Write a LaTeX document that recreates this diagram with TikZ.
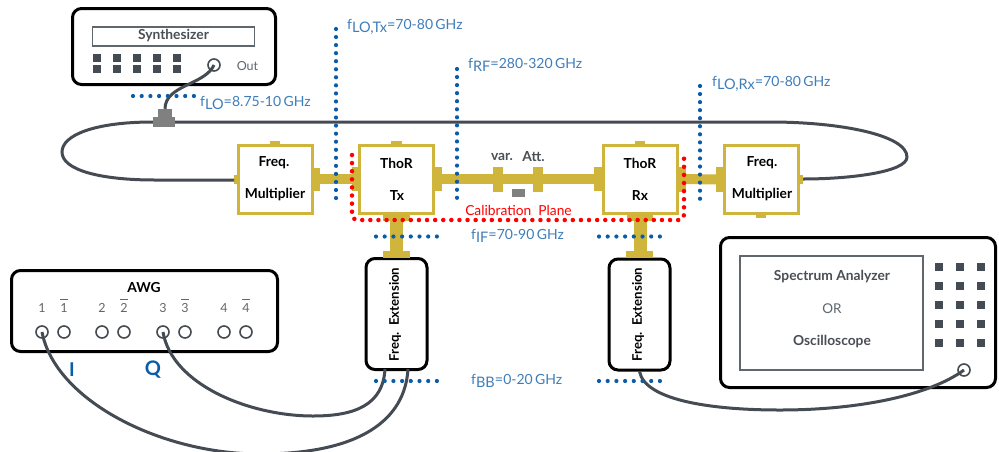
\documentclass[tikz,border=0pt]{standalone}
\usepackage{fontspec}
\setmainfont{Lato}
\definecolor{gold}{HTML}{CFB53B}
\definecolor{cable}{HTML}{454B52}
\definecolor{labblue}{HTML}{3F7DB8}
\definecolor{dotblue}{HTML}{0B5CA8}
\definecolor{boxgray}{HTML}{5F666C}
\definecolor{txtgray}{HTML}{4A4F55}
\newcommand{\fsub}[2]{f\raisebox{-3.5pt}{\fontsize{14.5}{14.5}\selectfont #1}{\fontsize{14.5}{14.5}\selectfont =}#2\,GHz}
\tikzset{
 case/.style={draw=black,line width=3pt,rounded corners=9pt,fill=white,inner sep=0pt},
 screen/.style={draw=boxgray,line width=1.8pt,fill=white,inner sep=0pt},
 rfblock/.style={draw=gold,line width=3pt,fill=white,inner sep=0pt,minimum width=74pt,minimum height=68pt},
 cab/.style={draw=cable,line width=3pt},
 portc/.style={circle,draw=cable,line width=1.6pt,fill=white,minimum size=12pt,inner sep=0pt},
 btn/.style={fill=cable,inner sep=0pt,minimum width=8pt,minimum height=7.5pt},
 gstub/.style={fill=gold},
 gline/.style={draw=gold,line width=10pt},
 bdots/.style={draw=dotblue,line width=4.2pt,line cap=round,dash pattern=on 0pt off 8.05pt},
 hdots/.style={draw=dotblue,line width=4.2pt,line cap=round,dash pattern=on 0pt off 8.7pt},
 rdots/.style={draw=red,line width=4.5pt,line cap=round,dash pattern=on 0pt off 8.1pt,rounded corners=5pt},
 lab/.style={text=labblue,font=\fontsize{14}{14}\selectfont,anchor=base west,inner sep=0pt},
 bt/.style={text=black,font=\fontsize{13.8}{14}\selectfont\bfseries,inner sep=0pt},
 gt/.style={text=txtgray,font=\fontsize{13.8}{14}\selectfont\bfseries,inner sep=0pt},
 lt/.style={text=boxgray,font=\fontsize{12.5}{13}\selectfont,inner sep=0pt},
}
\begin{document}
\begin{tikzpicture}[x=1pt,y=-1pt]
\useasboundingbox (0,0) rectangle (999,451);
\clip (0,0) rectangle (999,451);

% Synthesizer
\node[case,minimum width=203pt,minimum height=76pt] (synth) at (174,46.5) {};
\node[screen,minimum width=162pt,minimum height=19pt] (synthdisp) at (173.5,36.5) {};
\node[gt] (synthlab) at (173.5,36) {Synthesizer};
\foreach \x/\n in {97/a,117/b,137/c,157/d,177/e}{
 \node[btn] (s1\n) at (\x,58) {};
 \node[btn] (s2\n) at (\x,69) {};
}
\node[portc] (synthout) at (214,65) {};
\node[lt] (outlab) at (247.5,66) {Out};

% AWG
\node[case,minimum width=266pt,minimum height=81pt] (awg) at (144.5,311) {};
\node[bt] (awglab) at (144,288) {AWG};
\foreach \x/\t/\n in {42/1/a,102/2/c,163/3/e,224/4/g}{
 \node[lt,anchor=base] (awgl\n) at (\x,312.5) {\t};
 \node[portc] (awgp\n) at (\x,332) {};
}
\foreach \x/\t/\n in {64/1/b,124/2/d,185/3/f,246/4/h}{
 \node[lt,anchor=base] (awgl\n) at (\x,312.5) {$\overline{\mbox{\t\rule{0pt}{11.5pt}}}$};
 \node[portc] (awgp\n) at (\x,332) {};
}
\node[text=dotblue,font=\fontsize{19}{19}\selectfont\bfseries,inner sep=0pt] (ilab) at (72,370) {I};
\node[text=dotblue,font=\fontsize{20}{20}\selectfont\bfseries,inner sep=0pt] (qlab) at (153,370) {Q};

% Spectrum analyzer
\node[case,minimum width=275pt,minimum height=150pt] (sa) at (858,312.5) {};
\node[screen,minimum width=183pt,minimum height=114pt] (sascreen) at (831.5,313) {};
\node[gt] (salab) at (832,277) {Spectrum Analyzer};
\node[lt,font=\fontsize{13.5}{14}\selectfont] (orlab) at (832,309) {OR};
\node[gt] (osclab) at (832,342) {Oscilloscope};
\foreach \y in {267,286,305,324,343}{
 \foreach \x in {939,960,981}{
  \node[btn,minimum height=8pt] (sb\x\y) at (\x,\y) {};
 }
}
\node[portc] (saport) at (964,370) {};

% Frequency extensions
\node[case,minimum width=61pt,minimum height=111pt] (extt) at (396.5,314) {};
\node[case,minimum width=61pt,minimum height=111pt] (extr) at (639.5,314.5) {};
\node[bt,rotate=90,font=\fontsize{13.2}{14}\selectfont\bfseries] (exttlab) at (395,314.5) {Freq.\ \ Extension};
\node[bt,rotate=90,font=\fontsize{13.2}{14}\selectfont\bfseries] (extrlab) at (638,314.5) {Freq.\ \ Extension};

% RF blocks
\node[rfblock] (fml) at (275,179) {};
\node[rfblock] (thtx) at (396.5,179) {};
\node[rfblock] (thrx) at (640,179) {};
\node[rfblock] (fmr) at (761,179.5) {};
\node[bt] (fmlt) at (274,163) {Freq.};
\node[bt] (fmlb) at (275,195) {Multiplier};
\node[bt] (txt) at (396.5,163) {ThoR};
\node[bt] (txb) at (397,196) {Tx};
\node[bt] (rxt) at (640,163) {ThoR};
\node[bt] (rxb) at (640,196) {Rx};
\node[bt] (fmrt) at (762,163) {Freq.};
\node[bt] (fmrb) at (762,195) {Multiplier};

% gold lines
\draw[gline] (fml.east) -- (thtx.west);
\draw[gline] (thtx.east) -- (thrx.west);
\draw[gline] (thrx.east) -- (fmr.west);
\draw[gold,line width=13pt] (thtx.south) -- (extt.north);
\draw[gold,line width=13pt] (thrx.south) -- (thrx.south |- extr.north);
% stubs
\fill[gstub] (270,141) rectangle (280,144);
\fill[gstub] (234,175) rectangle (237,184);
\fill[gstub] (313,168) rectangle (320,191);
\fill[gstub] (391,141) rectangle (402,144);
\fill[gstub] (352,167) rectangle (358,191);
\fill[gstub] (435,167) rectangle (442,191);
\fill[gstub] (383,214) rectangle (410,221);
\fill[gstub] (383,251) rectangle (410,258);
\fill[gstub] (635,141) rectangle (645,144);
\fill[gstub] (594,167) rectangle (602,191);
\fill[gstub] (678,167) rectangle (686,192);
\fill[gstub] (627,214) rectangle (653,221);
\fill[gstub] (626,251) rectangle (653,258);
\fill[gstub] (716,167) rectangle (723,192);
\fill[gstub] (799,175) rectangle (803,184);
\fill[gstub] (756,215) rectangle (766,218);
\fill[gstub] (493,167) rectangle (503,192);
\fill[gstub] (533,167) rectangle (543,192);
\fill[gray] (512,189) rectangle (524.5,197);
\node[gt] (varlab) at (502,157) {var.};
\node[gt] (attlab) at (533.5,157) {Att.};

% LO cable
\node[fill=gray,minimum width=22pt,minimum height=10pt,inner sep=0pt] (coupler) at (164,122) {};
\node[fill=gray,minimum width=14pt,minimum height=9pt,inner sep=0pt] (couplertop) at (165,113.5) {};
\draw[cab] (coupler.east) -- (770,122) .. controls (840,122) and (907,135) .. (907,157)
  .. controls (907,172) and (850,179) .. (803,179);
\draw[cab] (coupler.west) .. controls (95,122) and (62,135) .. (62,152)
  .. controls (62,170) and (100,180) .. (155,180) -- (234,180);
\draw[cab] (synthout.center) .. controls (205,85) and (165,85) .. (couplertop.north);

% AWG and output cables
\draw[cab] (awgpa.center) .. controls (55,400) and (160,454) .. (260,454) .. controls (360,454) and (405,420) .. (408,369);
\draw[cab] (awgpe.center) .. controls (172,385) and (250,416) .. (313,416) .. controls (355,416) and (383,405) .. (385,369);
\draw[cab] (extr.south) .. controls (645,400) and (710,410) .. (780,410) .. controls (860,410) and (930,395) .. (saport.center);

% blue dotted levels
\draw[bdots] (336,29) -- (336,200);
\draw[bdots] (457,69) -- (457,200);
\draw[bdots] (700,86) -- (700,200);
\draw[hdots] (133,96) -- (196,96);
\draw[hdots] (376,236.5) -- (439,236.5);
\draw[hdots] (599,236.5) -- (662,236.5);
\draw[hdots] (376,381) -- (439,381);
\draw[hdots] (599,381) -- (662,381);

% calibration plane
\draw[rdots] (352,155) -- (352,220) -- (684,220) -- (684,156);
\node[text=red,font=\fontsize{13.8}{14}\selectfont,inner sep=0pt] (callab) at (518.5,210.5) {Calibration\ \ Plane};

% frequency labels
\node[lab] (flo) at (200,106) {\fsub{LO}{8.75-10}};
\node[lab] (flotx) at (347,29) {\fsub{LO,Tx}{70-80}};
\node[lab] (frf) at (468,68) {\fsub{RF}{280-320}};
\node[lab] (florx) at (712,86) {\fsub{LO,Rx}{70-80}};
\node[lab] (fif) at (471,239) {\fsub{IF}{70-90}};
\node[lab] (fbb) at (471,384) {\fsub{BB}{0-20}};
\end{tikzpicture}
\end{document}
